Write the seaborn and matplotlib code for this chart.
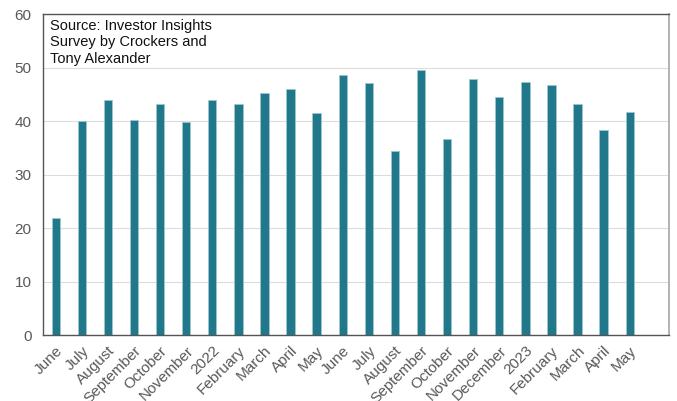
import matplotlib
matplotlib.use("Agg")
import matplotlib.pyplot as plt
import seaborn as sns
import pandas as pd

months = ["June", "July", "August", "September", "October", "November", "2022",
          "February", "March", "April", "May", "June", "July", "August",
          "September", "October", "November", "December", "2023", "February",
          "March", "April", "May"]
values = [22.0, 40.0, 44.0, 40.3, 43.2, 39.8, 44.0, 43.3, 45.3, 46.0, 41.6,
          48.6, 47.2, 34.4, 49.6, 36.7, 47.9, 44.5, 47.3, 46.8, 43.3, 38.4, 41.7]

sns.set_style("white")
plt.rcParams['font.family'] = ['Liberation Sans', 'DejaVu Sans']

df = pd.DataFrame({"pos": list(range(len(months))), "value": values})

fig = plt.figure(figsize=(6.77, 4.01), dpi=100)
ax = fig.add_axes([0.063, 0.164, 0.925, 0.800])

sns.barplot(data=df, x="pos", y="value", color="#21788a", saturation=1,
            width=0.32, edgecolor="#9cc7d0", linewidth=0.6, ax=ax, native_scale=False)

ax.set_xlim(-0.5, len(months) + 0.5)
ax.set_ylim(0, 60)
ax.set_yticks(range(0, 61, 10))
ax.yaxis.grid(True, color="#dcdcdc", linewidth=0.8)
ax.set_axisbelow(True)
ax.set_xticks(range(len(months)))
ax.set_xticklabels(months, rotation=45, ha="right", rotation_mode="anchor")
ax.tick_params(axis="both", labelsize=11, colors="#595959", length=0)
ax.tick_params(axis="y", pad=8)
ax.tick_params(axis="x", pad=6)
ax.set_xlabel("")
ax.set_ylabel("")

for side in ["left", "bottom", "top"]:
    ax.spines[side].set_color("#555555")
    ax.spines[side].set_linewidth(1.0)
ax.spines["right"].set_color("#a6a6a6")
ax.spines["right"].set_linewidth(1.2)

ax.text(0.012, 0.985, "Source: Investor Insights\nSurvey by Crockers and\nTony Alexander",
        transform=ax.transAxes, ha="left", va="top", fontsize=10.5, color="#111111",
        linespacing=1.2)

fig.savefig("out.png", dpi=100)
